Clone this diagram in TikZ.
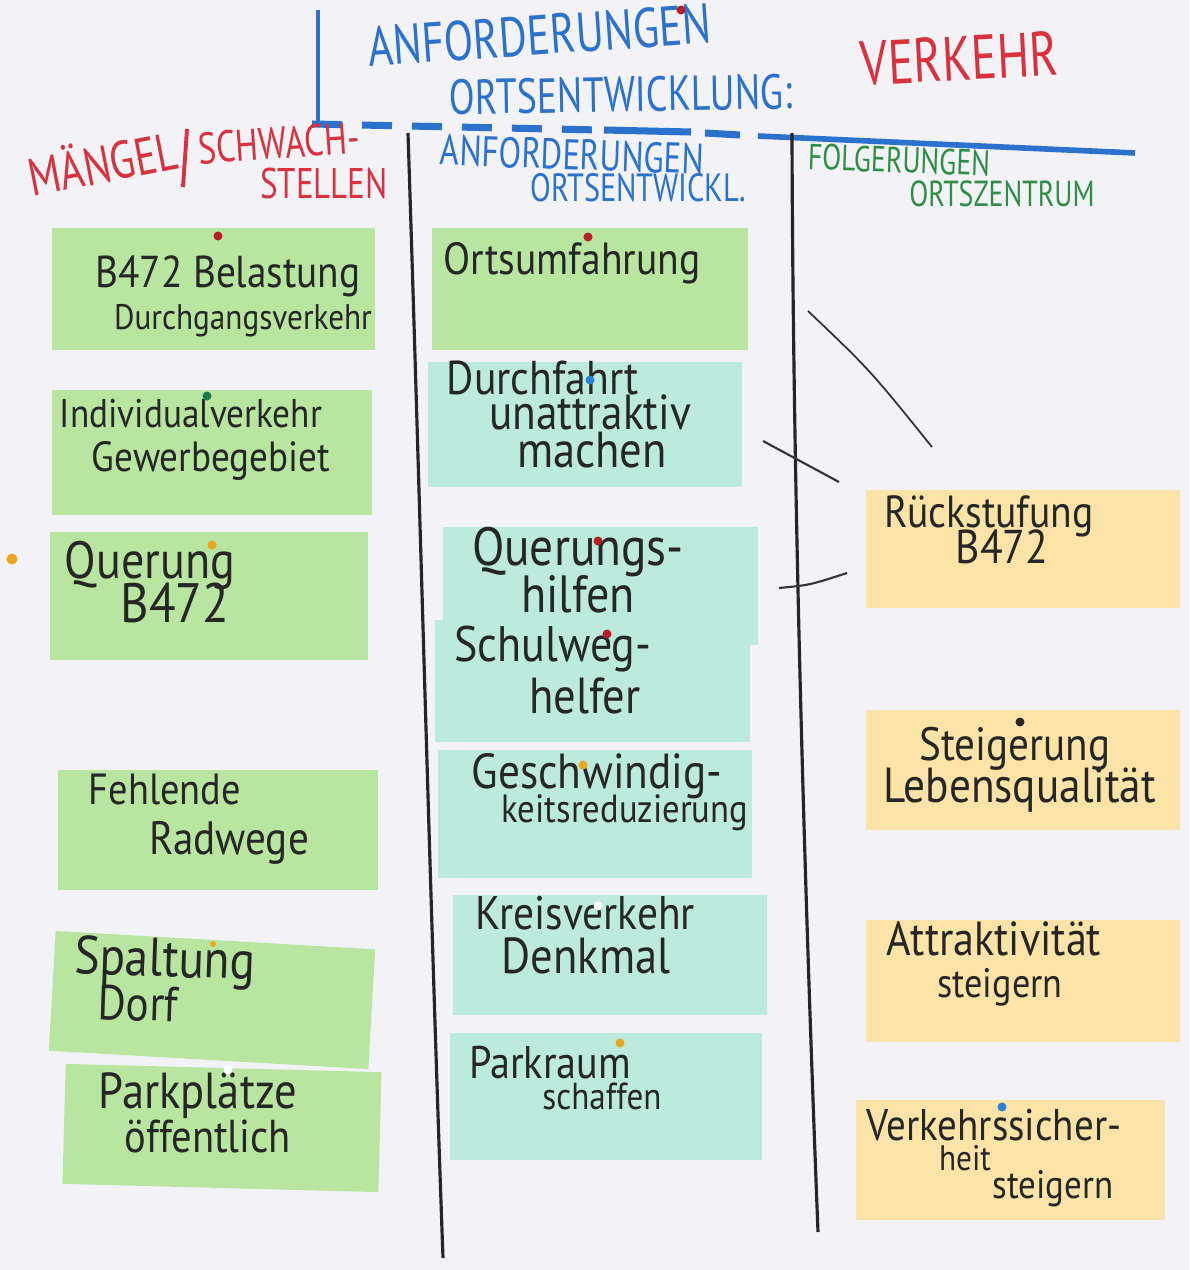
\documentclass[tikz,border=0pt]{standalone}
\usepackage{fontspec}
\setmainfont{PT Sans}
% narrow, tall lettering for marker and pen writing
\newfontfamily\penfont{PT Sans}[FakeStretch=0.88]
\newfontfamily\markerfont{PT Sans}[FakeStretch=0.77]
\usepackage{tikz}
\usetikzlibrary{positioning}

\definecolor{paper}{HTML}{F3F2F7}
\definecolor{cardgreen}{HTML}{B8E6A0}
\definecolor{cardcyan}{HTML}{BCEADC}
\definecolor{cardpeach}{HTML}{FCE4A8}
\definecolor{markerblue}{HTML}{2A72CC}
\definecolor{markerred}{HTML}{D8323E}
\definecolor{markergreen}{HTML}{2F8E45}
\definecolor{pinred}{HTML}{B51E28}
\definecolor{pinblue}{HTML}{2B7FD4}
\definecolor{pingreen}{HTML}{1B7A4A}
\definecolor{pinyellow}{HTML}{E9A820}

\tikzset{
  card/.style={minimum width=3.16cm, minimum height=1.22cm, inner sep=0pt},
  greencard/.style={card, fill=cardgreen},
  cyancard/.style={card, fill=cardcyan},
  peachcard/.style={card, fill=cardpeach},
  hand/.style={inner sep=0pt, text height=0.7em, text depth=0.1em, text=black!85,
    font=\penfont\fontsize{#1}{#1}\selectfont},
  hand/.default=13,
  marker/.style={inner sep=0pt, text height=0.68em, text depth=0.02em,
    font=\markerfont\fontsize{#1}{#1}\selectfont},
  pin/.style={circle, inner sep=0pt, minimum size=0.09cm},
}

\begin{document}
\begin{tikzpicture}[x=1cm, y=-1cm]

  % Flipchart sheet
  \fill[paper] (0,0) rectangle (11.89,12.70);
  \useasboundingbox (0,0) rectangle (11.89,12.70);

  % Title frame
  \draw[markerblue, line width=1.2pt] (3.18,0.10) -- (3.18,1.22);
  \draw[markerblue, line width=2pt, dash pattern=on 0.3cm off 0.2cm] (3.12,1.24) -- (6.00,1.30);
  \draw[markerblue, line width=2pt] (6.04,1.30) -- (6.91,1.32);
  \draw[markerblue, line width=2pt] (7.05,1.33) -- (7.40,1.35);
  \draw[markerblue, line width=1.6pt] (7.58,1.36) -- (11.35,1.53);

  % Title lettering
  \node[marker=15.9, text=markerblue, rotate=4] (title1) at (5.40,0.43) {ANFORDERUNGEN};
  \node[marker=14, text=markerblue, rotate=1] (title2) at (6.21,1.00) {ORTSENTWICKLUNG:};
  \node[marker=17.8, text=markerred, rotate=3] (topic) at (9.60,0.69) {VERKEHR};

  % Column rules
  \draw[black!85, line width=0.9pt] (4.08,1.33) .. controls (4.20,5.0) and (4.30,9.0) .. (4.43,12.58);
  \draw[black!85, line width=0.9pt] (7.92,1.33) .. controls (7.93,5.0) and (8.05,9.0) .. (8.18,12.32);

  % Column heads
  \node[marker=15, text=markerred, rotate=11] (head1a) at (1.04,1.71) {MÄNGEL};
  \draw[markerred, line width=1.1pt] (1.87,1.29) -- (1.83,1.87);
  \node[marker=12.6, text=markerred, rotate=4] (head1b) at (2.79,1.47) {SCHWACH-};
  \node[marker=12.2, text=markerred] (head1c) at (3.24,1.87) {STELLEN};
  \node[marker=12.2, text=markerblue, rotate=-2] (head2a) at (5.72,1.58) {ANFORDERUNGEN};
  \node[marker=11.2, text=markerblue] (head2b) at (6.38,1.90) {ORTSENTWICKL.};
  \node[marker=10.3, text=markergreen, rotate=-2] (head3a) at (8.99,1.61) {FOLGERUNGEN};
  \node[marker=10.3, text=markergreen] (head3b) at (10.02,1.95) {ORTSZENTRUM};

  % Links drawn across the right rule
  \draw[black!80, line width=0.5pt] (8.08,3.11) .. controls (8.70,3.70) .. (9.32,4.47);
  \draw[black!80, line width=0.6pt] (7.63,4.41) -- (8.39,4.82);
  \draw[black!80, line width=0.6pt] (7.79,5.88) .. controls (8.10,5.85) .. (8.47,5.73);

  % Cards: deficits
  \node[greencard, minimum width=3.23cm] (mangel1) at (2.135,2.89) {};
  \node[greencard, minimum width=3.20cm, minimum height=1.25cm] (mangel2) at (2.12,4.525) {};
  \node[greencard, minimum width=3.18cm, minimum height=1.28cm] (mangel3) at (2.09,5.96) {};
  \node[greencard, minimum width=3.20cm, minimum height=1.20cm] (mangel4) at (2.18,8.30) {};
  \node[greencard, minimum width=3.20cm, minimum height=1.20cm, rotate=-3.3] (mangel5) at (2.12,10.00) {};
  \node[greencard, minimum width=3.16cm, minimum height=1.20cm, rotate=-1.5] (mangel6) at (2.22,11.28) {};

  % Cards: requirements
  \node[greencard] (ziel1) at (5.90,2.89) {};
  \node[cyancard, minimum width=3.14cm, minimum height=1.25cm] (ziel2) at (5.85,4.245) {};
  \node[cyancard, minimum width=3.15cm, minimum height=1.18cm] (ziel3) at (6.005,5.86) {};
  \node[cyancard, minimum width=3.15cm] (ziel4) at (5.925,6.81) {};
  \node[cyancard, minimum width=3.14cm, minimum height=1.28cm] (ziel5) at (5.95,8.14) {};
  \node[cyancard, minimum width=3.14cm, minimum height=1.20cm] (ziel6) at (6.10,9.55) {};
  \node[cyancard, minimum width=3.12cm, minimum height=1.27cm] (ziel7) at (6.06,10.965) {};

  % Cards: conclusions
  \node[peachcard, minimum width=3.14cm, minimum height=1.18cm] (folge1) at (10.23,5.49) {};
  \node[peachcard, minimum width=3.14cm, minimum height=1.20cm] (folge2) at (10.23,7.70) {};
  \node[peachcard, minimum width=3.14cm] (folge3) at (10.23,9.81) {};
  \node[peachcard, minimum width=3.09cm, minimum height=1.20cm] (folge4) at (10.105,11.60) {};

  % Card writing
  \node[hand=12.7] (m1a) at (2.28,2.77) {B472 Belastung};
  \node[hand=10.1] (m1b) at (2.43,3.19) {Durchgangsverkehr};
  \node[hand=11.4] (m2a) at (1.91,4.17) {Individualverkehr};
  \node[hand=12] (m2b) at (2.11,4.61) {Gewerbegebiet};
  \node[hand=14.9] (m3a) at (1.50,5.68) {Querung};
  \node[hand=15.8] (m3b) at (1.75,6.12) {B472};
  \node[hand=12.4] (m4a) at (1.65,7.94) {Fehlende};
  \node[hand=13.3] (m4b) at (2.29,8.44) {Radwege};
  \node[hand=15.3, rotate=-2] (m5a) at (1.65,9.66) {Spaltung};
  \node[hand=14, rotate=-2] (m5b) at (1.38,10.10) {Dorf};
  \node[hand=14.4] (m6a) at (1.98,10.98) {Parkplätze};
  \node[hand=13.1] (m6b) at (2.08,11.42) {öffentlich};

  \node[hand=12.8] (z1a) at (5.72,2.64) {Ortsumfahrung};
  \node[hand=13.5] (z2a) at (5.43,3.84) {Durchfahrt};
  \node[hand=14] (z2b) at (5.90,4.19) {unattraktiv};
  \node[hand=14.4] (z2c) at (5.92,4.57) {machen};
  \node[hand=15.3] (z3a) at (5.78,5.55) {Querungs-};
  \node[hand=14.9] (z3b) at (5.78,6.02) {hilfen};
  \node[hand=14.2] (z4a) at (5.53,6.51) {Schulweg-};
  \node[hand=14.4] (z4b) at (5.85,7.03) {helfer};
  \node[hand=14] (z5a) at (5.97,7.78) {Geschwindig-};
  \node[hand=11.2] (z5b) at (6.25,8.12) {keitsreduzierung};
  \node[hand=13.4] (z6a) at (5.85,9.19) {Kreisverkehr};
  \node[hand=14.4] (z6b) at (5.86,9.63) {Denkmal};
  \node[hand=13] (z7a) at (5.50,10.68) {Parkraum};
  \node[hand=10.7] (z7b) at (6.02,10.99) {schaffen};

  \node[hand=12.8] (f1a) at (9.89,5.17) {Rückstufung};
  \node[hand=13.5] (f1b) at (10.02,5.53) {B472};
  \node[hand=13.3] (f2a) at (10.15,7.50) {Steigerung};
  \node[hand=14] (f2b) at (10.20,7.92) {Lebensqualität};
  \node[hand=13.6] (f3a) at (9.94,9.45) {Attraktivität};
  \node[hand=11.7] (f3b) at (10.00,9.87) {steigern};
  \node[hand=12.6] (f4a) at (9.94,11.30) {Verkehrssicher-};
  \node[hand=10.1] (f4b) at (9.65,11.60) {heit};
  \node[hand=11.3] (f4c) at (10.53,11.88) {steigern};

  % Pins
  \node[pin, fill=pinred] (pin0) at (6.81,0.10) {};
  \node[pin, fill=pinred] (pin1) at (2.18,2.36) {};
  \node[pin, fill=pingreen] (pin2) at (2.07,3.96) {};
  \node[pin, fill=pinyellow] (pin3) at (2.12,5.45) {};
  \node[pin, fill=pinyellow, minimum size=0.11cm] (pin4) at (0.12,5.59) {};
  \node[pin, fill=pinyellow, minimum size=0.06cm] (pin5) at (2.13,9.44) {};
  \node[pin, fill=white] (pin6) at (2.28,10.70) {};
  \node[pin, fill=pinred] (pin7) at (5.88,2.37) {};
  \node[pin, fill=pinblue] (pin8) at (5.90,3.80) {};
  \node[pin, fill=pinred] (pin9) at (5.98,5.41) {};
  \node[pin, fill=pinred] (pin10) at (6.07,6.34) {};
  \node[pin, fill=pinyellow] (pin11) at (5.83,7.65) {};
  \node[pin, fill=white] (pin12) at (5.98,9.06) {};
  \node[pin, fill=pinyellow] (pin13) at (6.20,10.43) {};
  \node[pin, fill=black!85] (pin14) at (10.20,7.22) {};
  \node[pin, fill=pinblue] (pin15) at (10.02,11.07) {};

\end{tikzpicture}
\end{document}
